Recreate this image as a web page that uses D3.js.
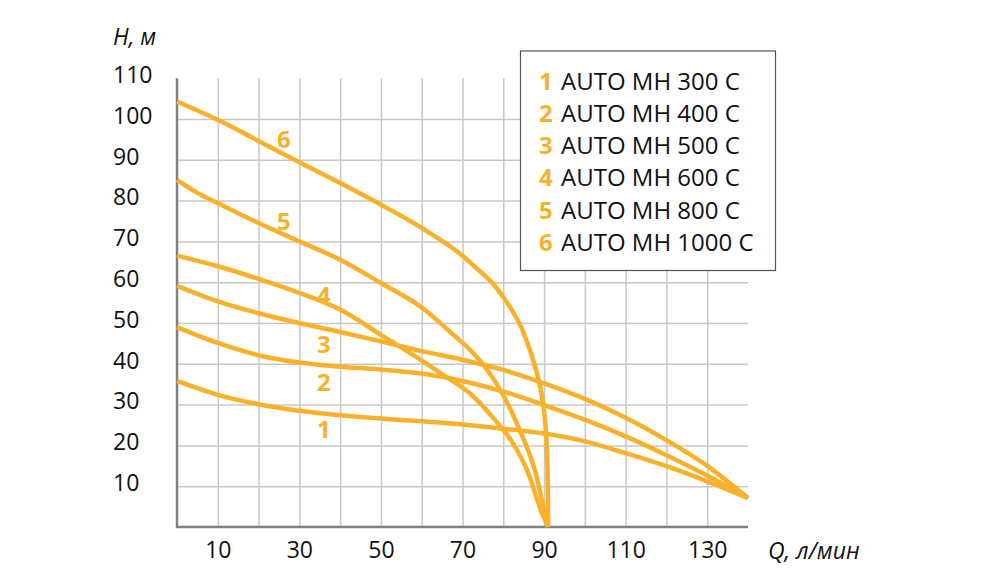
<!DOCTYPE html>
<html>
<head>
<meta charset="utf-8">
<script src="https://cdn.jsdelivr.net/npm/d3@7"></script>
<style>
  body { margin: 0; background: #fff; }
  text { font-family: "Open Sans", "Noto Sans", sans-serif; }
</style>
</head>
<body>
<div id="vis"></div>
<script>
// pump curves: [Q, H] pairs
var curve1 = [[0, 35.8], [10, 32.4], [20, 30.1], [30, 28.5], [40, 27.4], [50, 26.6], [60, 25.9],
  [70, 25.1], [80, 24.1], [90, 22.9], [100, 21], [110, 18.1], [120, 14.9], [130, 11.2], [140, 7.1]];
var curve2 = [[0, 49], [10, 45.1], [20, 42.1], [30, 40.3], [40, 39.3], [50, 38.6], [60, 37.6],
  [70, 35.8], [80, 33.2], [90, 29.9], [100, 26.3], [110, 22.2], [120, 17.6], [130, 12.6], [140, 7.1]];
var curve3 = [[0, 59.1], [10, 55.3], [20, 52.4], [30, 50], [40, 47.8], [50, 45.5], [60, 43.1],
  [70, 41], [80, 38.5], [90, 35.2], [100, 31.4], [110, 26.8], [120, 21.3], [130, 15], [140, 7.1]];
var curve4 = [[0, 66.5], [10, 63.9], [20, 60.8], [30, 57.4], [40, 53.3], [50, 47.1], [60, 40.8],
  [66, 36.8], [72, 32.6], [78, 26.2], [82, 21.1], [86, 13.5], [89.3, 3.9], [91, 0]];
var curve5 = [[0, 85.1], [5, 81.9], [10, 79.4], [20, 74.5], [30, 70], [40, 65.5], [50, 59.8],
  [60, 53.8], [68, 46.9], [72, 43.3], [76, 38.6], [80, 32.3], [82, 28.3], [84, 23.8], [86, 19],
  [88, 13], [89.6, 6], [91, 0]];
var curve6 = [[0, 104.3], [10, 99.8], [20, 94.6], [30, 89.4], [40, 84.3], [50, 79], [60, 73.3],
  [70, 66.5], [74, 62.9], [77.5, 59.6], [80, 56.3], [82.2, 53], [84.1, 49.6], [86.1, 44.6],
  [87.6, 40], [89, 34.6], [89.8, 30], [90.4, 24], [90.8, 16], [90.95, 8], [91, 0]];

var curveNames = ["AUTO MH 300 C", "AUTO MH 400 C", "AUTO MH 500 C",
  "AUTO MH 600 C", "AUTO MH 800 C", "AUTO MH 1000 C"];
var curveTags = ["1", "2", "3", "4", "5", "6"];
// where the number sits next to each curve, [Q, H]
var tagPos = [[36, 23.9], [36, 35.4], [36, 44.8], [36, 56.8], [26.2, 75], [26.2, 94.9]];

var xTicks = [10, 30, 50, 70, 90, 110, 130];
var yTicks = [10, 20, 30, 40, 50, 60, 70, 80, 90, 100, 110];
var xGrid = [10, 20, 30, 40, 50, 60, 70, 80, 90, 100, 110, 120, 130];
var yGrid = [10, 20, 30, 40, 50, 60, 70, 80, 90, 100];

var opts = {
  "width": 1000,
  "height": 583,
  "left": 177,
  "right": 748,
  "top": 78.2,
  "bottom": 527,
  "orange": "#f9b12a",
  "grid": "#c8c8c8",
  "axis": "#808080"
};

var svg = d3.select("#vis")
  .append("svg")
  .attr("width", opts.width)
  .attr("height", opts.height);

var x = d3.scaleLinear().domain([0, 140]).range([opts.left, opts.right]);
var y = d3.scaleLinear().domain([0, 110]).range([opts.bottom, opts.top]);

// grid
var gx = svg.append("g")
  .attr("transform", "translate(0," + opts.bottom + ")")
  .call(d3.axisBottom(x).tickValues(xGrid).tickSize(-(opts.bottom - opts.top)).tickFormat(""));
var gy = svg.append("g")
  .attr("transform", "translate(" + opts.left + ",0)")
  .call(d3.axisLeft(y).tickValues(yGrid).tickSize(-(opts.right - opts.left)).tickFormat(""));
[gx, gy].forEach(function(g) {
  g.select(".domain").remove();
  g.selectAll("line").attr("stroke", opts.grid).attr("stroke-width", 1.5);
});

// axis lines
svg.append("line")
  .attr("x1", x(0)).attr("x2", x(0))
  .attr("y1", y(110)).attr("y2", y(0) + 1)
  .attr("stroke", opts.axis).attr("stroke-width", 2.5);
svg.append("line")
  .attr("x1", x(0) - 1).attr("x2", x(140))
  .attr("y1", y(0)).attr("y2", y(0))
  .attr("stroke", opts.axis).attr("stroke-width", 2.5);

// tick labels
var xl = svg.append("g")
  .attr("transform", "translate(0,542)")
  .call(d3.axisBottom(x).tickValues(xTicks).tickSize(0).tickPadding(0));
var yl = svg.append("g")
  .attr("transform", "translate(113,-3)")
  .call(d3.axisLeft(y).tickValues(yTicks).tickSize(0).tickPadding(0));
[xl, yl].forEach(function(g) {
  g.select(".domain").remove();
  g.selectAll("text")
    .attr("font-family", "Open Sans, Noto Sans, sans-serif")
    .attr("font-size", 23)
    .attr("fill", "#111");
});
yl.selectAll("text").attr("text-anchor", "start").attr("x", 0);

// axis titles
svg.append("text")
  .attr("x", 113).attr("y", 45)
  .attr("font-size", 23).attr("font-style", "italic").attr("fill", "#111")
  .text("H, м");
svg.append("text")
  .attr("x", 768).attr("y", 559)
  .attr("font-size", 23).attr("font-style", "italic").attr("fill", "#111")
  .text("Q, л/мин");

// curves
var line = d3.line()
  .x(function(d) { return x(d[0]); })
  .y(function(d) { return y(d[1]); })
  .curve(d3.curveMonotoneX);

var curves = [curve1, curve2, curve3, curve4, curve5, curve6];
svg.selectAll(".curve")
  .data(curves)
  .enter()
  .append("path")
  .classed("curve", true)
  .attr("d", line)
  .attr("fill", "none")
  .attr("stroke", opts.orange)
  .attr("stroke-width", 4.5)
  .attr("stroke-linejoin", "round");

svg.selectAll(".tag")
  .data(tagPos)
  .enter()
  .append("text")
  .classed("tag", true)
  .attr("x", function(d) { return x(d[0]); })
  .attr("y", function(d) { return y(d[1]); })
  .attr("dy", "0.36em")
  .attr("text-anchor", "middle")
  .attr("font-size", 24)
  .attr("font-weight", "bold")
  .attr("fill", opts.orange)
  .text(function(d, i) { return curveTags[i]; });

// legend
var legend = svg.append("g");
legend.append("rect")
  .attr("x", 520.5).attr("y", 51)
  .attr("width", 255).attr("height", 219.5)
  .attr("fill", "#fff")
  .attr("stroke", "#555")
  .attr("stroke-width", 1.2);

var rows = legend.selectAll(".row")
  .data(curveNames)
  .enter()
  .append("g")
  .classed("row", true)
  .attr("transform", function(d, i) { return "translate(0," + (89.5 + i * 32.3) + ")"; });
rows.append("text")
  .attr("x", 539)
  .attr("font-size", 24)
  .attr("font-weight", "bold")
  .attr("fill", opts.orange)
  .text(function(d, i) { return curveTags[i]; });
rows.append("text")
  .attr("x", 561)
  .attr("font-size", 24)
  .attr("fill", "#111")
  .text(function(d) { return d; });
</script>
</body>
</html>
